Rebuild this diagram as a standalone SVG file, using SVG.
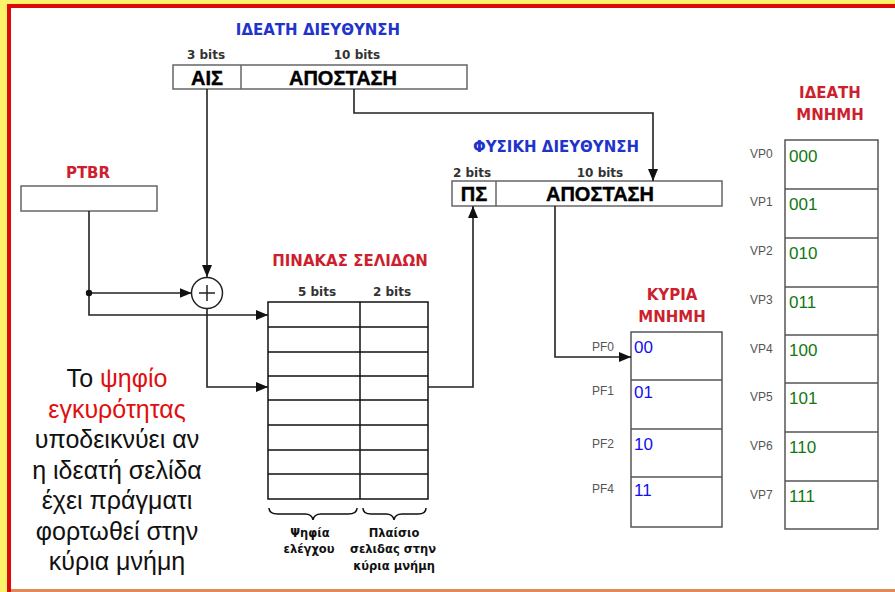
<svg xmlns="http://www.w3.org/2000/svg" width="895" height="592" viewBox="0 0 895 592">
<style>
.title{font-family:"DejaVu Sans",sans-serif;font-weight:bold;font-size:15px;text-anchor:middle}
.blue{fill:#2233cc}
.red{fill:#cc1f2f}
.bits{font-family:"DejaVu Sans",sans-serif;font-weight:bold;font-size:12px;fill:#333;text-anchor:middle}
.field{font-family:"Liberation Sans",Arial,sans-serif;font-weight:bold;font-size:20px;fill:#000;text-anchor:middle;stroke:#000;stroke-width:0.4}
.box{fill:#fff;stroke:#666;stroke-width:1.5}
.tbl{fill:none;stroke:#111;stroke-width:1.5}
.mem{fill:#fff;stroke:#555;stroke-width:1.5}
.lbl{font-family:"Liberation Sans",Arial,sans-serif;font-size:12px;fill:#555}
.pf{font-family:"Liberation Sans",Arial,sans-serif;font-size:17px;fill:#1010ee}
.vp{font-family:"Liberation Sans",Arial,sans-serif;font-size:17px;fill:#117711}
.note{font-family:"Liberation Sans",Arial,sans-serif;font-size:25px;fill:#111;text-anchor:middle}
.small{font-family:"DejaVu Sans",sans-serif;font-weight:bold;font-size:11.5px;fill:#111;text-anchor:middle}
.conn{fill:none;stroke:#222;stroke-width:1.6}
</style>
<defs>
<marker id="arr" viewBox="0 0 12 10" refX="12" refY="5" markerWidth="12" markerHeight="10" markerUnits="userSpaceOnUse" orient="auto">
<path d="M0,0 L12,5 L0,10 Z" fill="#111"/>
</marker>
</defs>
<rect x="0" y="0" width="895" height="592" fill="#fff"/>
<!-- frame -->
<rect x="0" y="0" width="895" height="5" fill="#fbf46a"/>
<rect x="0" y="0" width="7" height="592" fill="#fbf46a"/>
<rect x="7" y="4" width="888" height="4" fill="#dd0a0a"/>
<rect x="7" y="4" width="4" height="588" fill="#dd0a0a"/>
<rect x="11" y="589" width="884" height="3" fill="#e08a5a"/>

<g id="virtual-address">
<text class="title blue" x="318" y="35">ΙΔΕΑΤΗ ΔΙΕΥΘΥΝΣΗ</text>
<text class="bits" x="206" y="59">3 bits</text>
<text class="bits" x="357" y="59">10 bits</text>
<rect class="box" x="173" y="65" width="294" height="24"/>
<line x1="241" y1="65" x2="241" y2="89" stroke="#666" stroke-width="1.5"/>
<text class="field" x="207" y="85">ΑΙΣ</text>
<text class="field" x="343" y="85">ΑΠΟΣΤΑΣΗ</text>
</g>

<g id="ptbr">
<text class="title red" x="88" y="178">PTBR</text>
<rect class="box" x="21" y="186" width="136" height="25"/>
</g>

<g id="adder">
<circle cx="207" cy="293" r="15.5" fill="#fff" stroke="#222" stroke-width="1.5"/>
<line x1="199" y1="293" x2="215" y2="293" stroke="#222" stroke-width="1.5"/>
<line x1="207" y1="285" x2="207" y2="301" stroke="#222" stroke-width="1.5"/>
</g>

<g id="page-table">
<text class="title red" x="350" y="266">ΠΙΝΑΚΑΣ ΣΕΛΙΔΩΝ</text>
<text class="bits" x="317" y="296">5 bits</text>
<text class="bits" x="392" y="296">2 bits</text>
<rect class="tbl" x="268" y="302" width="160" height="197"/>
<line class="tbl" x1="360" y1="302" x2="360" y2="499"/>
<path class="tbl" d="M268,327H428M268,352H428M268,376H428M268,400H428M268,425H428M268,450H428M268,474H428"/>
<path class="tbl" stroke-width="1.2" d="M269,508 Q269,514 278,514 L305,514 Q312,514 313,520 Q314,514 321,514 L348,514 Q357,514 357,508"/>
<path class="tbl" stroke-width="1.2" d="M363,508 Q363,514 371,514 L386,514 Q393,514 394,520 Q395,514 402,514 L418,514 Q426,514 426,508"/>
<text class="small" x="310" y="537">Ψηφία</text>
<text class="small" x="309" y="553">ελέγχου</text>
<text class="small" x="394" y="537">Πλαίσιο</text>
<text class="small" x="393" y="553">σελιδας στην</text>
<text class="small" x="394" y="570">κύρια μνήμη</text>
</g>

<g id="physical-address">
<text class="title blue" x="556" y="152">ΦΥΣΙΚΗ ΔΙΕΥΘΥΝΣΗ</text>
<text class="bits" x="472" y="177">2 bits</text>
<text class="bits" x="600" y="177">10 bits</text>
<rect class="box" x="452" y="181" width="270" height="25"/>
<line x1="496" y1="181" x2="496" y2="206" stroke="#666" stroke-width="1.5"/>
<text class="field" x="474" y="201">ΠΣ</text>
<text class="field" x="600" y="201">ΑΠΟΣΤΑΣΗ</text>
</g>

<g id="main-memory">
<text class="title red" x="672" y="300">ΚΥΡΙΑ</text>
<text class="title red" x="672" y="322">ΜΝΗΜΗ</text>
<rect class="mem" x="631" y="332" width="91" height="195"/>
<path class="mem" d="M631,380H722M631,429H722M631,477H722"/>
<text class="lbl" x="592" y="351">PF0</text>
<text class="lbl" x="592" y="395">PF1</text>
<text class="lbl" x="592" y="448">PF2</text>
<text class="lbl" x="592" y="493">PF4</text>
<text class="pf" x="634" y="353">00</text>
<text class="pf" x="634" y="398">01</text>
<text class="pf" x="634" y="450">10</text>
<text class="pf" x="634" y="496">11</text>
</g>

<g id="virtual-memory">
<text class="title red" x="830" y="98">ΙΔΕΑΤΗ</text>
<text class="title red" x="830" y="120">ΜΝΗΜΗ</text>
<rect class="mem" x="785" y="140" width="93" height="389"/>
<path class="mem" d="M785,189H878M785,238H878M785,287H878M785,335H878M785,383H878M785,432H878M785,481H878"/>
<text class="lbl" x="750" y="158">VP0</text>
<text class="lbl" x="750" y="206">VP1</text>
<text class="lbl" x="750" y="255">VP2</text>
<text class="lbl" x="750" y="304">VP3</text>
<text class="lbl" x="750" y="353">VP4</text>
<text class="lbl" x="750" y="401">VP5</text>
<text class="lbl" x="750" y="450">VP6</text>
<text class="lbl" x="750" y="499">VP7</text>
<text class="vp" x="789" y="162">000</text>
<text class="vp" x="789" y="210">001</text>
<text class="vp" x="789" y="259">010</text>
<text class="vp" x="789" y="308">011</text>
<text class="vp" x="789" y="356">100</text>
<text class="vp" x="789" y="404">101</text>
<text class="vp" x="789" y="453">110</text>
<text class="vp" x="789" y="502">111</text>
</g>

<g id="note">
<text class="note" x="117" y="387">Το <tspan fill="#e01010">ψηφίο</tspan></text>
<text class="note" x="117" y="418" style="fill:#e01010">εγκυρότητας</text>
<text class="note" x="117" y="448">υποδεικνύει αν</text>
<text class="note" x="117" y="479">η ιδεατή σελίδα</text>
<text class="note" x="117" y="509">έχει πράγματι</text>
<text class="note" x="117" y="540">φορτωθεί στην</text>
<text class="note" x="117" y="570">κύρια μνήμη</text>
</g>

<g id="connectors">
<path class="conn" d="M207,89V277" marker-end="url(#arr)"/>
<path class="conn" d="M89,211V315H268" marker-end="url(#arr)"/>
<path class="conn" d="M89,293H191.5" marker-end="url(#arr)"/>
<circle cx="89" cy="293" r="3.2" fill="#111"/>
<path class="conn" d="M207,308.5V387H268" marker-end="url(#arr)"/>
<path class="conn" d="M354,89V113H653V181" marker-end="url(#arr)"/>
<path class="conn" d="M428,387H473V206" marker-end="url(#arr)"/>
<path class="conn" d="M555,206V357H631" marker-end="url(#arr)"/>
</g>
</svg>
